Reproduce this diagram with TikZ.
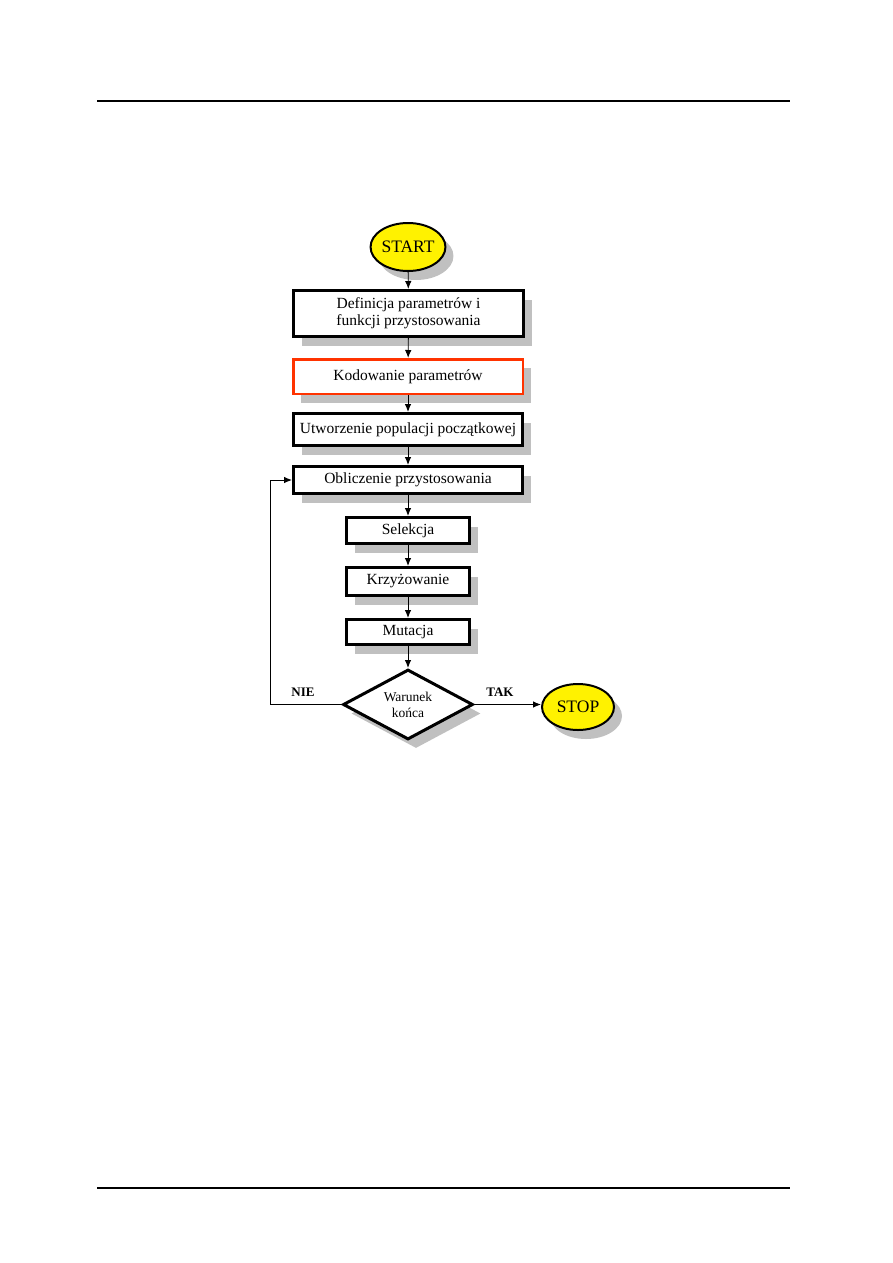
\documentclass[tikz,border=0pt]{standalone}
\usepackage{fontspec}
\setmainfont{Liberation Serif}
\usetikzlibrary{shapes.geometric,shadows,arrows.meta}
\definecolor{shgray}{RGB}{192,192,192}
\definecolor{redb}{RGB}{255,51,0}
\begin{document}
\begin{tikzpicture}[x=1pt,y=-1pt,
  shd/.style={drop shadow={shadow xshift=8pt,shadow yshift=-9pt,fill=shgray,opacity=1}},
  box/.style={draw=black,line width=3pt,fill=white,shd,inner sep=0pt,align=center,font=\fontsize{15.5}{17}\selectfont},
  redbox/.style={box,draw=redb,line width=2.5pt},
  term/.style={ellipse,draw=black,line width=2pt,fill=yellow,shd,inner sep=0pt,font=\fontsize{17.5}{18}\selectfont},
  dec/.style={diamond,draw=black,line width=3pt,fill=white,shd,inner sep=0pt,aspect=1.8,align=center,font=\fontsize{13.5}{16}\selectfont},
  arr/.style={line width=0.9pt,-{Latex[length=8pt,width=6.5pt]}},
  lbl/.style={font=\bfseries\fontsize{13}{14}\selectfont}]
\useasboundingbox (0,0) rectangle (893,1263);
\draw[line width=1.5pt] (97,101) -- (790,101);
\draw[line width=1.5pt] (97,1188) -- (790,1188);
\node[term,minimum width=70,minimum height=48] (start) at (408,247) {START};
\node[box,minimum width=230,minimum height=46] (b1) at (408.5,313.5) {Definicja parametrów i\\funkcji przystosowania};
\node[redbox,minimum width=229.5,minimum height=34.5] (b2) at (408,376.5) {Kodowanie parametrów};
\node[box,minimum width=229,minimum height=32] (b3) at (408,429.5) {Utworzenie populacji początkowej};
\node[box,minimum width=229,minimum height=27] (b4) at (408,480) {Obliczenie przystosowania};
\node[box,minimum width=123,minimum height=26] (b5) at (408,530.5) {Selekcja};
\node[box,minimum width=123,minimum height=28] (b6) at (408,581.5) {Krzyżowanie};
\node[box,minimum width=123,minimum height=25] (b7) at (408,632) {Mutacja};
\node[dec,minimum width=130,minimum height=70] (d) at (408,704.5) {Warunek\\końca};
\node[term,minimum width=72,minimum height=46] (stop) at (578,707) {STOP};
\coordinate (lp) at (270,704.5);
\draw[arr] (start) -- (b1);
\draw[arr] (b1) -- (b2);
\draw[arr] (b2) -- (b3);
\draw[arr] (b3) -- (b4);
\draw[arr] (b4) -- (b5);
\draw[arr] (b5) -- (b6);
\draw[arr] (b6) -- (b7);
\draw[arr] (b7) -- (d);
\draw[arr] (d.east) -- (stop.west |- d.east);
\draw[arr] (d.west) -- (lp) |- (b4.west);
\node[lbl] (nie) at (303,692) {NIE};
\node[lbl] (tak) at (500,692) {TAK};
\end{tikzpicture}
\end{document}
